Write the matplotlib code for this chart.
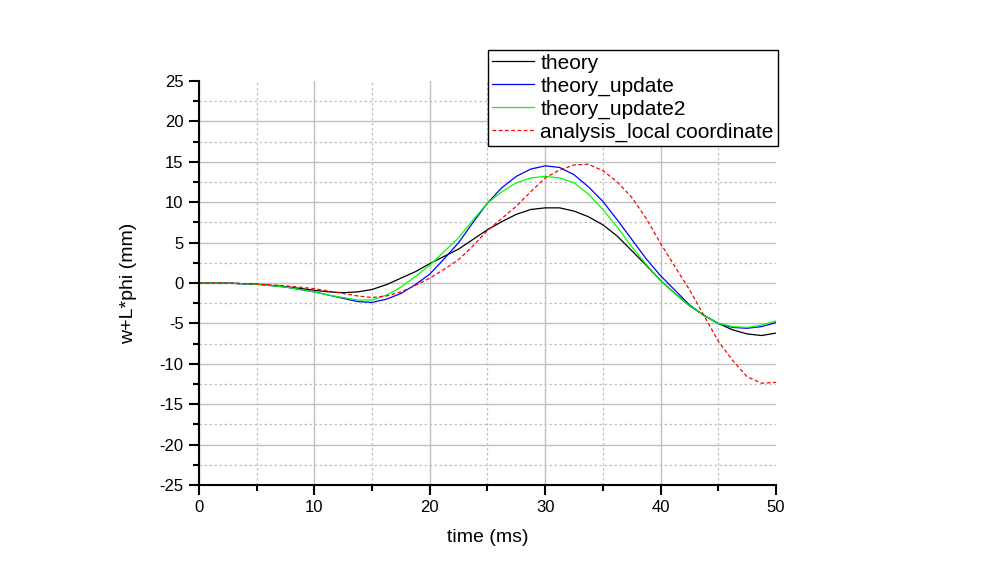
import matplotlib

matplotlib.use("Agg")

import matplotlib.pyplot as plt
from matplotlib.ticker import MultipleLocator

plt.rcParams["font.family"] = ["Liberation Sans", "DejaVu Sans"]
plt.rcParams["axes.unicode_minus"] = False

# time (ms)
time_ms = [0, 2.5, 5, 7.5, 10, 11.25, 12.5, 13.75, 15, 16.25, 17.5, 18.75, 20,
           21.25, 22.5, 23.75, 25, 26.25, 27.5, 28.75, 30, 31.25, 32.5, 33.75,
           35, 36.25, 37.5, 38.75, 40, 41.25, 42.5, 43.75, 45, 46.25, 47.5,
           48.75, 50]

theory = [0, -0.02, -0.15, -0.45, -0.9, -1.1, -1.2, -1.1, -0.8, -0.2, 0.6, 1.4,
          2.4, 3.3, 4.2, 5.4, 6.6, 7.6, 8.5, 9.1, 9.3, 9.3, 8.9, 8.2, 7.2, 5.8,
          4.0, 2.2, 0.3, -1.3, -2.8, -4.0, -5.0, -5.8, -6.3, -6.5, -6.2]

theory_update = [0, -0.02, -0.15, -0.5, -1.1, -1.5, -1.9, -2.3, -2.4, -2.0, -1.3,
                 -0.2, 1.1, 3.0, 5.0, 7.5, 9.9, 11.8, 13.2, 14.1, 14.5, 14.3,
                 13.4, 11.9, 10.1, 7.8, 5.4, 3.0, 0.9, -0.9, -2.7, -4.0, -5.0,
                 -5.5, -5.6, -5.4, -4.9]

theory_update2 = [0, -0.02, -0.15, -0.5, -1.1, -1.5, -1.8, -2.1, -2.1, -1.5,
                  -0.5, 0.8, 2.2, 3.9, 5.6, 7.8, 9.9, 11.3, 12.4, 13.0, 13.2,
                  13.0, 12.4, 11.0, 9.1, 6.9, 4.5, 2.3, 0.3, -1.3, -2.8, -4.0,
                  -5.0, -5.4, -5.5, -5.2, -4.7]

analysis_local = [0, -0.02, -0.12, -0.35, -0.7, -1.0, -1.3, -1.6, -1.8, -1.6,
                  -1.1, -0.3, 0.6, 1.7, 2.9, 4.6, 6.5, 8.0, 9.5, 11.3, 13.0,
                  14.0, 14.6, 14.7, 13.9, 12.5, 10.6, 8.0, 4.9, 2.0, -0.8, -4.0,
                  -7.2, -9.6, -11.6, -12.4, -12.3]

x_ticks = [0, 10, 20, 30, 40, 50]
y_ticks = [-25, -20, -15, -10, -5, 0, 5, 10, 15, 20, 25]


def main() -> None:
    fig = plt.figure(figsize=(10.01, 5.70), dpi=100)
    ax = fig.add_axes([0.1988, 0.1491, 0.5764, 0.7088])

    ax.plot(time_ms, theory, color="black", lw=0.9, label="theory")
    ax.plot(time_ms, theory_update, color="#0000ff", lw=0.9, label="theory_update")
    ax.plot(time_ms, theory_update2, color="#00ff00", lw=0.9, label="theory_update2")
    ax.plot(time_ms, analysis_local, color="#ff0000", lw=0.9, ls=(0, (3, 2)),
            label="analysis_local coordinate")

    ax.set_xlim(0, 50)
    ax.set_ylim(-25, 25)
    ax.set_xticks(x_ticks)
    ax.set_yticks(y_ticks)
    ax.xaxis.set_minor_locator(MultipleLocator(5))
    ax.yaxis.set_minor_locator(MultipleLocator(2.5))

    ax.grid(which="major", color="#c0c0c0", lw=1.0, ls="-")
    ax.grid(which="minor", color="#c0c0c0", lw=0.9, ls=(0, (2, 2)))
    ax.set_axisbelow(True)
    # no grid line on the top/right limits
    ax.get_ygridlines()[-1].set_visible(False)
    ax.get_xgridlines()[-1].set_visible(False)

    for side in ("top", "right"):
        ax.spines[side].set_visible(False)
    for side in ("left", "bottom"):
        ax.spines[side].set_linewidth(1.5)

    ax.tick_params(which="major", direction="out", length=7, width=1.5,
                   labelsize=12, pad=4)
    ax.tick_params(which="minor", direction="out", length=4, width=1.5)

    ax.set_xlabel("time (ms)", fontsize=14, labelpad=10)
    ax.set_ylabel("w+L*phi (mm)", fontsize=14, labelpad=16)

    leg = fig.legend(loc="upper right", bbox_to_anchor=(0.777, 0.913),
                     fontsize=15, frameon=True, fancybox=False, framealpha=1,
                     edgecolor="black", handlelength=2.0, handletextpad=0.3,
                     labelspacing=0.18, borderpad=0.2, borderaxespad=0)
    leg.get_frame().set_linewidth(1.0)

    fig.savefig("out.png", dpi=100)
    plt.close(fig)


if __name__ == "__main__":
    main()
